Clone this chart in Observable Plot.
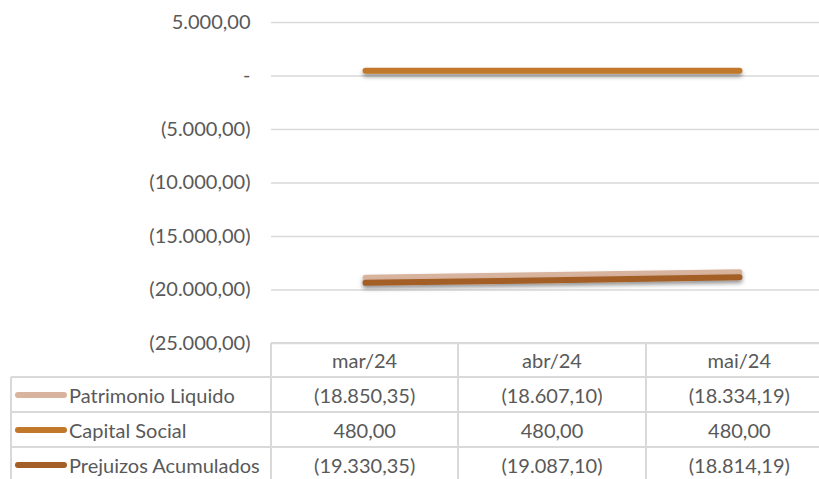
<!DOCTYPE html>
<html>
<head>
<meta charset="utf-8">
<script src="https://cdn.jsdelivr.net/npm/d3@7"></script>
<script src="https://cdn.jsdelivr.net/npm/@observablehq/plot@0.6"></script>
<style>
  html, body { margin: 0; padding: 0; background: #fff; }
  #wrap { position: relative; width: 819px; height: 479px; overflow: hidden; font-family: Lato, "Open Sans", sans-serif; color: #595959; }
  #tbl { position: absolute; left: 0; top: 0; }
  .cell { position: absolute; box-sizing: border-box; font-size: 20px; color: #595959; display: flex; align-items: center; justify-content: center; white-space: nowrap; }
  .hline { position: absolute; height: 2px; background: #d9d9d9; }
  .vline { position: absolute; width: 2px; background: #d9d9d9; }
  .sw { position: absolute; height: 6px; border-radius: 3px; }
</style>
</head>
<body>
<div id="wrap"></div>
<script>
const months = ["mar/24", "abr/24", "mai/24"];
const seriesNames = ["Patrimonio Liquido", "Capital Social", "Prejuizos Acumulados"];
const patrimonioLiquido = [-18850.35, -18607.10, -18334.19];
const capitalSocial = [480.00, 480.00, 480.00];
const prejuizosAcumulados = [-19330.35, -19087.10, -18814.19];
const yTicks = [5000, 0, -5000, -10000, -15000, -20000, -25000];
const seriesColors = ["#D8B39E", "#C27829", "#A35F25"];

const seriesValues = [patrimonioLiquido, capitalSocial, prejuizosAcumulados];
const rows = [];
seriesNames.forEach((s, i) => months.forEach((m, j) => rows.push({series: s, month: m, value: seriesValues[i][j]})));

const loc = d3.formatLocale({decimal: ",", thousands: ".", grouping: [3], currency: ["", ""]});
const f2 = loc.format(",.2f");
const fmt = v => v === 0 ? "-" : v < 0 ? "(" + f2(-v) + ")" : f2(v);

const W = 819, H = 479;
const plotLeft = 271, plotRight = 833, plotTop = 22, plotBottom = 343;

const chart = Plot.plot({
  width: W,
  height: H,
  marginLeft: plotLeft,
  marginRight: 0,
  marginTop: plotTop,
  marginBottom: H - plotBottom,
  style: {fontFamily: "Lato, 'Open Sans', sans-serif", fontSize: "20px", color: "#595959", background: "#fff", overflow: "visible"},
  x: {type: "point", domain: months, range: [plotLeft, plotRight], padding: 0.5, axis: null},
  y: {domain: [-25000, 5000], axis: null},
  color: {domain: seriesNames, range: seriesColors},
  marks: [
    Plot.gridY(yTicks, {stroke: "#d9d9d9", strokeOpacity: 1, strokeWidth: 1.5}),
    Plot.axisY(yTicks, {tickSize: 0, tickPadding: 21, tickFormat: fmt, fill: "#595959", fontSize: 20, label: null}),
    Plot.line(rows, {x: "month", y: "value", z: "series", stroke: "series", strokeWidth: 6, strokeLinecap: "round", strokeLinejoin: "round", className: "series-line"})
  ]
});

const wrap = document.getElementById("wrap");
wrap.appendChild(chart);

// drop shadow like the original
const svg = d3.select(chart);
const defs = svg.insert("defs", ":first-child");
const flt = defs.append("filter").attr("id", "shadow").attr("filterUnits", "userSpaceOnUse")
  .attr("x", 0).attr("y", 0).attr("width", W).attr("height", H);
flt.append("feDropShadow").attr("dx", 0).attr("dy", 3).attr("stdDeviation", 2.2).attr("flood-color", "#000").attr("flood-opacity", 0.4);
svg.selectAll(".series-line path").attr("filter", "url(#shadow)");

// data table below the plot area
const tbl = document.createElement("div");
tbl.id = "tbl";
wrap.appendChild(tbl);
const xs = d3.scalePoint().domain(months).range([plotLeft, plotRight]).padding(0.5);
const step = xs.step();
const colEdges = months.map(m => xs(m) - step / 2).concat([xs(months[months.length - 1]) + step / 2]);
const rowTops = [343, 377, 412, 447, 482];
const tableLeft = 11;

function add(cls, css, text) {
  const d = document.createElement("div");
  d.className = cls;
  Object.assign(d.style, css);
  if (text != null) d.textContent = text;
  tbl.appendChild(d);
  return d;
}
add("hline", {left: plotLeft + "px", top: (rowTops[0] - 1) + "px", width: (plotRight - plotLeft) + "px"});
for (let r = 1; r < rowTops.length; r++) {
  add("hline", {left: tableLeft + "px", top: (rowTops[r] - 1) + "px", width: (plotRight - tableLeft) + "px"});
}
colEdges.forEach(x => add("vline", {left: (x - 1) + "px", top: rowTops[0] + "px", height: (rowTops[4] - rowTops[0]) + "px"}));
add("vline", {left: (tableLeft - 1) + "px", top: rowTops[1] + "px", height: (rowTops[4] - rowTops[1]) + "px"});
months.forEach((m, j) => add("cell", {left: colEdges[j] + "px", top: rowTops[0] + "px", width: step + "px", height: (rowTops[1] - rowTops[0]) + "px"}, m));
seriesNames.forEach((s, i) => {
  const top = rowTops[i + 1], h = rowTops[i + 2] - rowTops[i + 1];
  add("sw", {left: "15px", top: (top + h / 2 - 3) + "px", width: "52px", background: seriesColors[i]});
  add("cell", {left: "69px", top: top + "px", height: h + "px", justifyContent: "flex-start"}, s);
  months.forEach((m, j) => add("cell", {left: colEdges[j] + "px", top: top + "px", width: step + "px", height: h + "px"}, fmt(seriesValues[i][j])));
});
</script>
</body>
</html>
